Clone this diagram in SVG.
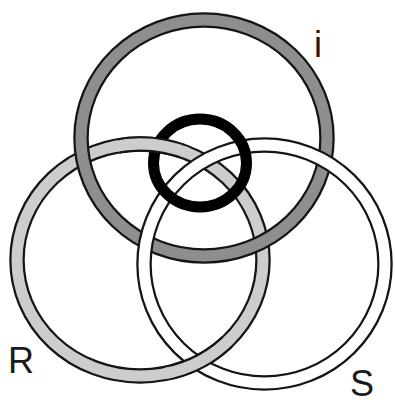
<svg xmlns="http://www.w3.org/2000/svg" width="395" height="405" viewBox="0 0 395 405">
<style>
.o{fill:none;stroke:#151515;stroke-width:15.5}
.f{fill:none;stroke-width:11}
.ri{stroke:#8e8e8e}
.rr{stroke:#cdcdcd}
.rs{stroke:#ffffff}
.lbl{font-family:"Liberation Sans",Arial,sans-serif;font-size:36px;fill:#1a1a1a}
</style>
<rect width="395" height="405" fill="#ffffff"/>
<g id="ring-R">
<ellipse class="o" cx="140" cy="260" rx="123" ry="116"/>
<ellipse class="f rr" cx="140" cy="260" rx="123" ry="116"/>
<text class="lbl" x="8" y="373">R</text>
</g>
<g id="ring-i">
<ellipse class="o" cx="204" cy="138" rx="123" ry="118"/>
<ellipse class="f ri" cx="204" cy="138" rx="123" ry="118"/>
<text class="lbl" x="314" y="57">i</text>
</g>
<g id="ring-S">
<ellipse class="o" cx="264.5" cy="264" rx="120.5" ry="119"/>
<ellipse class="f rs" cx="264.5" cy="264" rx="120.5" ry="119"/>
<text class="lbl" x="350" y="396">S</text>
</g>
<g id="ring-R-over-S">
<path class="o" d="M227,342 A123,116 0 0 1 171.8,372"/>
<path class="f rr" d="M231.4,337.6 A123,116 0 0 1 165.6,373.5"/>
</g>
<g id="ring-center">
<ellipse cx="200" cy="163" rx="46.5" ry="44" fill="none" stroke="#000" stroke-width="11"/>
</g>
<g id="ring-R-over-center">
<path class="o" d="M118.6,145.8 A123,116 0 0 1 182.1,151"/>
<path class="f rr" d="M112.3,147 A123,116 0 0 1 188.1,153.2"/>
</g>
<g id="connectors"/>
</svg>
